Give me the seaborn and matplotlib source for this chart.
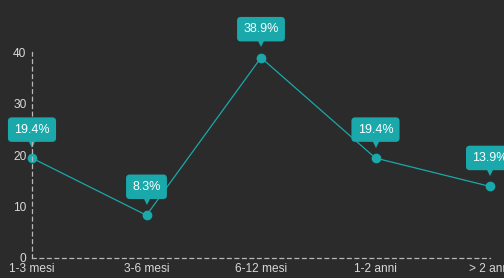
import pandas as pd
import matplotlib
matplotlib.use("Agg")
import matplotlib.pyplot as plt
import matplotlib.transforms as mtransforms
import seaborn as sns

periodi = ["1-3 mesi", "3-6 mesi", "6-12 mesi", "1-2 anni", "> 2 anni"]
percentuali = [19.4, 8.3, 38.9, 19.4, 13.9]
y_ticks = [0, 10, 20, 30, 40]

df = pd.DataFrame({"periodo": periodi, "perc": percentuali})

sfondo = "#2b2b2b"
teal = "#1aa8aa"
testo = "#d9d9d9"

sns.set_style("dark")
plt.rcParams["font.family"] = ["Liberation Sans", "DejaVu Sans"]

fig = plt.figure(figsize=(5.04, 2.78), dpi=100, facecolor=sfondo)
ax = fig.add_axes([32 / 504, 20 / 278, 458 / 504, 206 / 278])
ax.set_facecolor(sfondo)

sns.lineplot(data=df, x="periodo", y="perc", ax=ax, color=teal, linewidth=0.9,
             marker="o", markersize=7, markeredgewidth=0, clip_on=False)

ax.set_xlim(0, len(periodi) - 1)
ax.set_ylim(0, 40)
ax.set_yticks(y_ticks)
ax.set_xlabel("")
ax.set_ylabel("")
ax.grid(False)
ax.tick_params(axis="both", length=0, colors=testo, labelsize=8.6)
ax.tick_params(axis="y", pad=4)
ax.tick_params(axis="x", pad=3.5)

for lato in ["top", "right"]:
    ax.spines[lato].set_visible(False)
for lato in ["left", "bottom"]:
    ax.spines[lato].set_visible(True)
    ax.spines[lato].set_color("#b8b8b8")
    ax.spines[lato].set_linestyle((0, (3, 3)))
    ax.spines[lato].set_linewidth(0.9)

# etichette a fumetto sopra i punti
punta = mtransforms.offset_copy(ax.transData, fig=fig, y=11, units="points")
for i, v in enumerate(percentuali):
    ax.annotate(f"{v}%", xy=(i, v), xytext=(0, 20.5), textcoords="offset points",
                ha="center", va="center", fontsize=9, color="white",
                annotation_clip=False,
                bbox=dict(boxstyle="round,pad=0.5,rounding_size=0.3",
                          fc=teal, ec="none"))
    ax.plot(i, v, marker="v", markersize=7, color=teal, markeredgewidth=0,
            transform=punta, clip_on=False)

fig.savefig("out.png", dpi=100, facecolor=sfondo)
